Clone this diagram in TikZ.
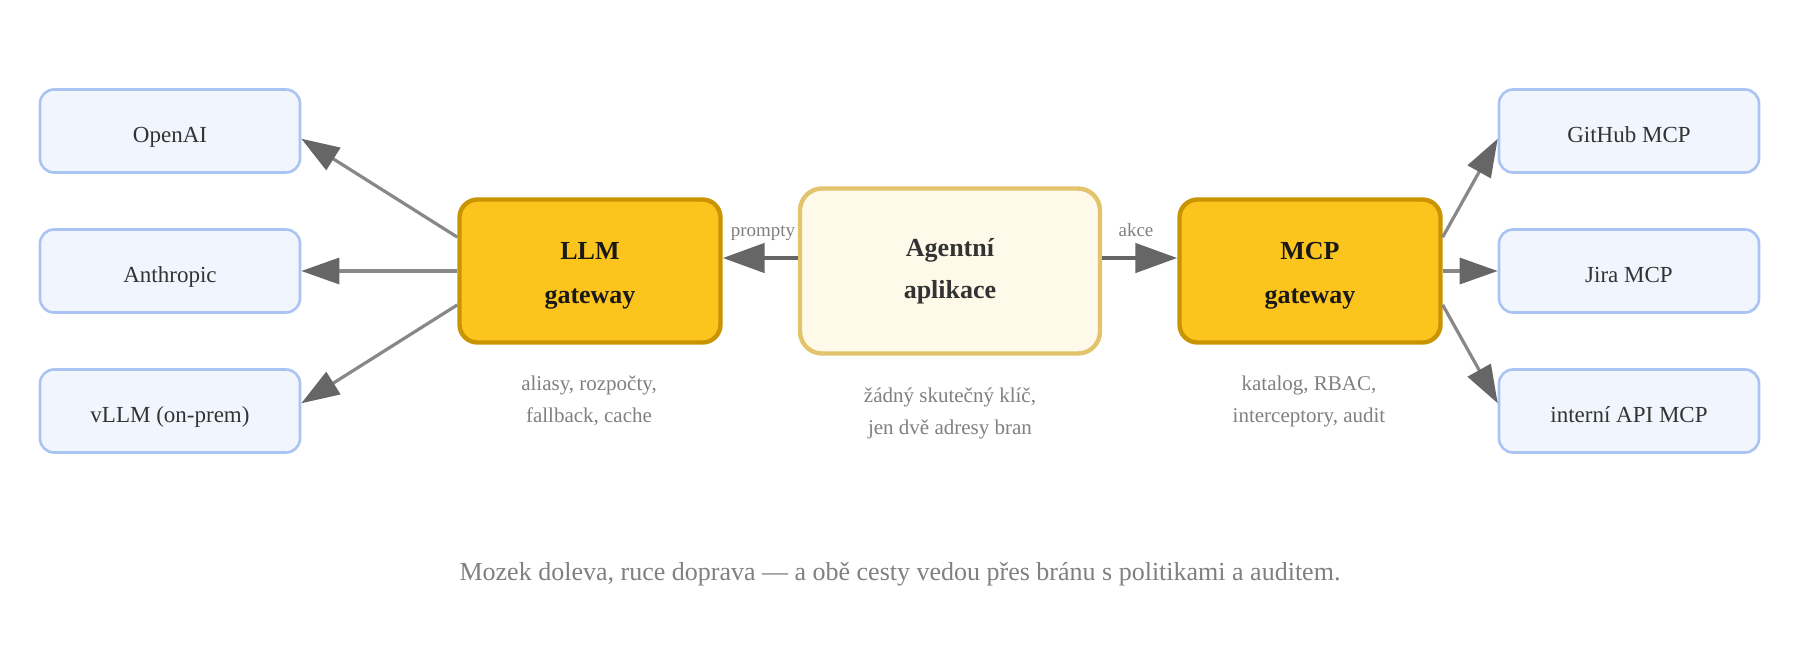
\documentclass[tikz,border=0pt]{standalone}
\usepackage{fontspec}
\setmainfont{Liberation Serif}
\usetikzlibrary{arrows.meta,calc}
\usepackage{xcolor}
\definecolor{provline}{HTML}{A9C4F2}
\definecolor{provfill}{HTML}{F1F6FE}
\definecolor{gwfill}{HTML}{FBC51E}
\definecolor{gwline}{HTML}{C99400}
\definecolor{appfill}{HTML}{FFF9EA}
\definecolor{appline}{HTML}{E2C46C}
\definecolor{linegray}{HTML}{888888}
\definecolor{tipgray}{HTML}{666666}
\definecolor{notegray}{HTML}{808080}
\definecolor{textdark}{HTML}{333333}

\begin{document}
\begin{tikzpicture}[x=0.5pt, y=-0.5pt,
  prov/.style={draw=provline, fill=provfill, line width=1.3pt, rounded corners=7pt,
               minimum width=130pt, minimum height=41.5pt,
               text height=11.5pt, text depth=0.5pt,
               font=\fontsize{11.5}{14}\selectfont, text=textdark},
  gwtext/.style={align=center, yshift=-2.5pt, text=black!90,
                 font=\fontsize{13}{22}\selectfont\bfseries},
  gw/.style={draw=gwline, fill=gwfill, line width=2.2pt, rounded corners=9pt,
             minimum width=130.5pt, minimum height=71.5pt,
             label={[gwtext]center:#1}},
  app/.style={draw=appline, fill=appfill, line width=2.2pt, rounded corners=11pt,
              minimum width=150pt, minimum height=82.5pt, align=center,
              font=\fontsize{13}{21}\selectfont\bfseries, text=textdark},
  note/.style={align=center, text=notegray, font=\fontsize{10.5}{16}\selectfont},
  lbl/.style={text=notegray, text height=6.6pt, text depth=0.2pt,
              font=\fontsize{9.5}{11}\selectfont},
  fan/.style={line width=1.6pt, linegray, -{Triangle[length=19pt,width=13pt,color=tipgray]}},
  main/.style={line width=2.4pt, tipgray, -{Triangle[length=21pt,width=14.5pt]}}]
  \fill[white] (0,0) rectangle (1800,660);
  \useasboundingbox (0,0) rectangle (1800,660);
  % poskytovatele modelu
  \node[prov] (openai) at (170,131) {OpenAI};
  \node[prov] (anthropic) at (170,271) {Anthropic};
  \node[prov] (vllm) at (170,411) {vLLM (on-prem)};
  % brany a aplikace
  \node[gw={LLM\\gateway}] (llm) at (590,271) {};
  \node[app] (agent) at (950,271) {Agentní\\aplikace};
  \node[gw={MCP\\gateway}] (mcp) at (1310,271) {};
  % MCP servery
  \node[prov] (github) at (1629,131) {GitHub MCP};
  \node[prov] (jira) at (1629,271) {Jira MCP};
  \node[prov] (interni) at (1629,411) {interní API MCP};
  % poznamky
  \node[note] (nllm) at (589,401) {aliasy, rozpočty,\\fallback, cache};
  \node[note] (nagent) at (950,413) {žádný skutečný klíč,\\jen dvě adresy bran};
  \node[note] (nmcp) at (1309,401) {katalog, RBAC,\\interceptory, audit};
  \node[lbl] (lprompty) at (763,230) {prompty};
  \node[lbl] (lakce) at (1136,230) {akce};
  \node[note, font=\fontsize{13}{16}\selectfont] (caption) at (900,574)
    {Mozek doleva, ruce doprava — a obě cesty vedou přes bránu s politikami a auditem.};
  % spojnice
  \draw[main] ($(agent.west)+(0,-13)$) -- ($(llm.east)+(0,-13)$);
  \draw[main] ($(agent.east)+(0,-13)$) -- ($(mcp.west)+(0,-13)$);
  \draw[fan] ($(llm.north west)!0.27!(llm.south west)$) -- ($(openai.north east)!0.59!(openai.south east)$);
  \draw[fan] (llm.west) -- (anthropic.east);
  \draw[fan] ($(llm.north west)!0.73!(llm.south west)$) -- ($(vllm.north east)!0.41!(vllm.south east)$);
  \draw[fan] ($(mcp.north east)!0.27!(mcp.south east)$) -- ($(github.north west)!0.59!(github.south west)$);
  \draw[fan] (mcp.east) -- (jira.west);
  \draw[fan] ($(mcp.north east)!0.73!(mcp.south east)$) -- ($(interni.north west)!0.41!(interni.south west)$);
\end{tikzpicture}
\end{document}
